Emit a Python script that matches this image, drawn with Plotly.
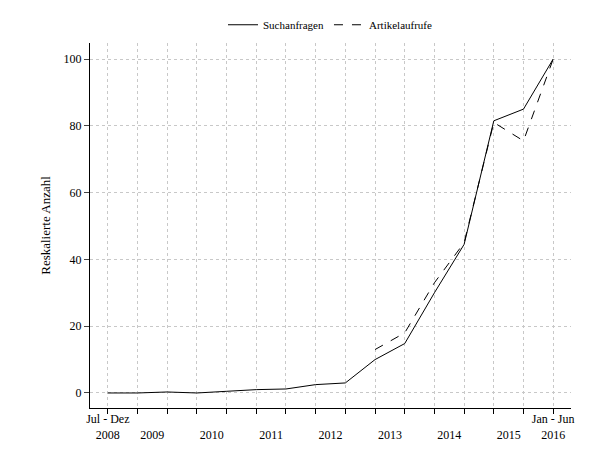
import plotly.graph_objects as go

periods = list(range(16))  # half-years: Jul-Dez 2008 ... Jan-Jun 2016
such = [0, 0, 0.3, 0, 0.5, 1, 1.2, 2.5, 3, 10, 14.8, 30, 44.5, 81.5, 85, 100]
art_periods = [9, 10, 11, 12, 13, 14, 15]
art = [13, 18, 33, 45, 81, 75.5, 100]
tick_pos = [0, 1.5, 3.5, 5.5, 7.5, 9.5, 11.5, 13.5, 15]
tick_txt = ["Jul - Dez<br>2008", " <br>2009", " <br>2010", " <br>2011", " <br>2012", " <br>2013",
            " <br>2014", " <br>2015", "Jan - Jun<br>2016"]

fig = go.Figure()
fig.add_trace(go.Scatter(x=periods, y=such, mode="lines", name="Suchanfragen",
                         line=dict(color="black", width=1)))
fig.add_trace(go.Scatter(x=art_periods, y=art, mode="lines", name="Artikelaufrufe",
                         line=dict(color="black", width=1, dash="dash")))
fig.update_layout(
    width=600, height=450, plot_bgcolor="white", paper_bgcolor="white",
    margin=dict(l=82, r=37, t=35, b=50, autoexpand=False),
    font=dict(family="Liberation Serif", size=12, color="black"),
    legend=dict(orientation="h", x=0.5, xanchor="center", yref="container", y=0.995, yanchor="top",
                font=dict(size=11)),
    xaxis=dict(range=[-0.6, 15.6], tickvals=tick_pos, ticktext=tick_txt, showgrid=False,
               showline=True, linecolor="black", ticks="", zeroline=False, automargin=False,
               minor=dict(dtick=1, tick0=0, showgrid=True, gridcolor="#c8c8c8", griddash="dot",
                          ticks="outside", ticklen=5, tickcolor="black")),
    yaxis=dict(range=[-4.5, 104.8], tickvals=[0, 20, 40, 60, 80, 100], showgrid=True, automargin=False,
               gridcolor="#c8c8c8", griddash="dot", showline=True, linecolor="black",
               ticks="outside", ticklen=5, zeroline=False,
               title=dict(text="Reskalierte Anzahl", font=dict(size=13), standoff=10)),
)
fig.write_html("out.html")
